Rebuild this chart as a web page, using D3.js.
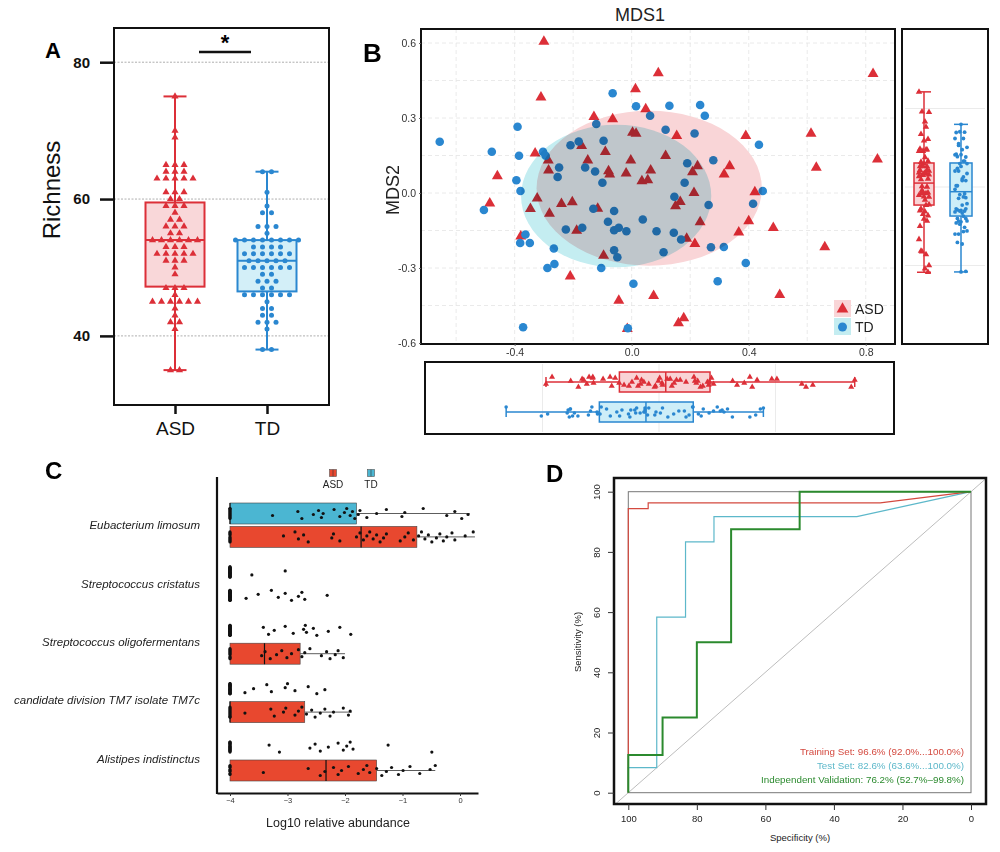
<!DOCTYPE html>
<html>
<head>
<meta charset="utf-8">
<script src="https://cdn.jsdelivr.net/npm/d3@7"></script>
<style>
  body { margin: 0; background: #fff; }
  svg { display: block; }
  text { font-family: "Liberation Sans", Arial, sans-serif; }
</style>
</head>
<body>
<svg id="fig" width="1000" height="852"></svg>
<script>
// ---------- panel A : richness ----------
const richGroups = ["ASD", "TD"];
const richASD = [75, 70, 69, 65, 65, 65, 64, 64, 64, 63, 63, 63, 63, 63, 61, 61, 61, 60, 60, 59, 59, 59, 58,
  57, 57, 56, 56, 56, 55, 55, 54, 54, 54, 54, 54, 54, 53, 53, 53, 52, 52, 52, 52, 52, 51, 51, 51, 50, 49,
  47, 47, 47, 46, 45, 45, 45, 45, 45, 45, 44, 43, 42, 42, 41, 35, 35];
const richTD = [64, 64, 61, 59, 58, 58, 56, 56, 56, 55, 54, 54, 54, 54, 54, 54, 54, 54, 53, 53, 53, 53,
  52, 52, 52, 52, 52, 52, 51, 51, 51, 51, 51, 50, 50, 50, 50, 50, 50, 49, 49, 48, 48, 48, 47, 47,
  46, 46, 46, 46, 46, 46, 45, 44, 44, 43, 43, 42, 42, 42, 41, 38, 38];
// min, q1, median, q3, max
const richBoxASD = [35, 47.2, 54, 59.5, 75];
const richBoxTD = [38, 46.5, 51, 54, 64];
const richTicks = [40, 60, 80];

// ---------- panel B : MDS ----------
const asdMds1 = [-0.30, -0.31, 0.091, 0.825, 0.013, 0.048, -0.129, -0.065, 0.003, 0.015, 0.154, 0.39, 0.613, 0.84,
  0.631, -0.171, -0.33, -0.09, 0.116, -0.285, -0.15, -0.003, -0.284, -0.079, -0.075, -0.019, 0.065, 0.035, 0.055,
  0.208, 0.225, 0.335, 0.316, -0.459, -0.485, -0.323, -0.346, -0.281, -0.24, -0.203, -0.116, -0.188, 0.213, 0.166,
  0.15, 0.234, 0.421, 0.40, 0.366, 0.484, 0.188, 0.216, -0.096, 0.66, -0.379, -0.21, -0.044, 0.075, 0.178, 0.16,
  0.506, -0.015];
const asdMds2 = [0.606, 0.383, 0.48, 0.477, 0.416, 0.336, 0.305, 0.296, 0.242, 0.238, 0.229, 0.229, 0.238, 0.135,
  0.102, 0.189, 0.159, 0.165, 0.149, 0.131, 0.131, 0.131, 0.091, 0.088, 0.075, 0.079, 0.091, 0.048, 0.052,
  0.084, 0.108, 0.108, 0.075, 0.068, -0.041, -0.021, -0.063, -0.082, -0.043, -0.036, -0.062, -0.15, 0.001, -0.035,
  -0.052, -0.116, 0.004, -0.112, -0.157, -0.139, -0.182, -0.203, -0.25, -0.216, -0.173, -0.333, -0.43, -0.411, -0.5,
  -0.52, -0.407, -0.543];
const tdMds1 = [-0.656, -0.478, -0.39, -0.385, -0.394, -0.38, -0.505, -0.065, 0.015, 0.129, 0.234, 0.25, 0.063,
  -0.121, 0.116, 0.215, 0.435, -0.209, -0.181, -0.096, -0.303, -0.294, -0.248, -0.253, -0.159, -0.125, -0.1, 0.19,
  0.181, 0.279, 0.448, 0.415, 0.263, 0.146, -0.131, -0.06, 0.038, -0.081, -0.225, -0.169, -0.06, -0.044, -0.018,
  0.085, 0.144, 0.169, 0.271, 0.315, -0.363, -0.381, -0.348, -0.266, -0.06, -0.049, 0.109, -0.288, -0.264, -0.104,
  0.39, 0.006, 0.294, -0.371, -0.013];
const tdMds2 = [0.205, 0.165, 0.265, 0.149, 0.051, 0.008, -0.068, 0.399, 0.347, 0.349, 0.352, 0.309, 0.309, 0.276,
  0.253, 0.238, 0.193, 0.191, 0.206, 0.209, 0.165, 0.149, 0.102, 0.064, 0.102, 0.086, 0.041, 0.119, 0.041, 0.131,
  0.008, -0.043, -0.048, -0.015, -0.063, -0.072, -0.106, -0.115, -0.146, -0.139, -0.149, -0.139, -0.153, -0.153,
  -0.159, -0.186, -0.217, -0.216, -0.166, -0.2, -0.2, -0.222, -0.229, -0.257, -0.237, -0.3, -0.284, -0.3, -0.28,
  -0.363, -0.353, -0.537, -0.541];
// ellipse: cx, cy, rx, ry (data units)
const asdEllipse = [0.06, 0.019, 0.385, 0.31];
const tdEllipse = [-0.053, -0.012, 0.325, 0.285];
const mdsXTicks = [-0.4, 0.0, 0.4, 0.8];
const mdsYTicks = [-0.6, -0.3, 0.0, 0.3, 0.6];
// marginal boxplots: min, q1, median, q3, max
const asdMds1Box = [-0.485, -0.17, 0.029, 0.219, 0.84];
const tdMds1Box = [-0.656, -0.256, -0.056, 0.147, 0.448];
const asdMds2Box = [-0.543, -0.115, 0.025, 0.153, 0.606];
const tdMds2Box = [-0.541, -0.185, -0.03, 0.153, 0.399];

// ---------- panel C : species abundance ----------
const cSpecies = ["Eubacterium limosum", "Streptococcus cristatus", "Streptococcus oligofermentans",
  "candidate division TM7 isolate TM7c", "Alistipes indistinctus"];
// q1, median, q3, whisker max (null = no box)
const cBoxTD = [[-4, -4, -1.80, 0.17], null, null, null, null];
const cBoxASD = [[-4, -1.72, -0.75, 0.26], null, [-4, -3.40, -2.78, -2.0], [-4, -4, -2.70, -1.88], [-4, -2.33, -1.45, -0.43]];
const cPtsTD = [
  [-3.26, -2.82, -2.75, -2.55, -2.46, -2.41, -2.38, -2.19, -2.09, -2.01, -1.97, -1.91, -1.87, -1.83, -1.77, -1.74,
    -1.62, -1.45, -1.28, -1.01, -0.96, -0.64, -0.23, -0.09, 0.03, 0.14],
  [-3.62, -3.04],
  [-3.42, -3.33, -3.23, -3.04, -2.90, -2.72, -2.69, -2.67, -2.55, -2.49, -2.29, -2.09, -1.90],
  [-3.74, -3.59, -3.36, -3.28, -3.04, -3.0, -2.87, -2.64, -2.49, -2.35],
  [-3.32, -3.14, -2.61, -2.52, -2.43, -2.29, -2.12, -2.03, -1.97, -1.91, -1.86, -1.25, -0.49]
];
const cPtsASD = [
  [-3.07, -2.87, -2.81, -2.72, -2.64, -2.23, -2.2, -2.09, -1.80, -1.74, -1.68, -1.62, -1.57, -1.51, -1.45, -1.39,
    -1.33, -1.28, -1.04, -0.96, -0.9, -0.81, -0.72, -0.67, -0.61, -0.55, -0.49, -0.41, -0.35, -0.29, -0.23, -0.14,
    -0.09, 0.09, 0.23],
  [-3.72, -3.51, -3.28, -3.16, -3.04, -2.93, -2.81, -2.75, -2.70, -2.31],
  [-3.45, -3.39, -3.30, -3.19, -3.10, -3.01, -2.93, -2.81, -2.75, -2.70, -2.61, -2.41, -2.32, -2.26, -2.17, -2.12, -2.03],
  [-3.74, -3.29, -3.23, -3.07, -3.03, -2.87, -2.81, -2.75, -2.67, -2.58, -2.52, -2.43, -2.35, -2.26, -2.20, -2.03,
    -1.94, -1.91],
  [-3.42, -2.64, -2.43, -2.35, -2.20, -2.12, -2.06, -1.94, -1.77, -1.68, -1.62, -1.57, -1.45, -1.36, -1.28, -1.19,
    -1.07, -0.99, -0.87, -0.70, -0.52, -0.43]
];
// samples sitting on the detection floor (-4)
const cFloorTD = [12, 30, 25, 25, 20];
const cFloorASD = [10, 30, 10, 12, 8];
const cTicks = [-4, -3, -2, -1, 0];

// ---------- panel D : ROC ----------
const rocTrain = [[100, 0], [100, 94.4], [94.2, 94.4], [94.2, 96.3], [26.5, 96.3], [0, 100]];
const rocTest = [[100, 0], [100, 8.3], [91.7, 8.3], [91.7, 58.3], [83.3, 58.3], [83.3, 83.3], [75, 83.3],
  [75, 91.7], [33.3, 91.7], [0, 100]];
const rocValid = [[100, 0], [100, 12.5], [90, 12.5], [90, 25], [80, 25], [80, 50], [70, 50], [70, 87.5],
  [50, 87.5], [50, 100], [0, 100]];
const rocLabels = ["Training Set: 96.6% (92.0%...100.0%)", "Test Set: 82.6% (63.6%...100.0%)",
  "Independent Validation: 76.2% (52.7%\u201399.8%)"];
const rocTicks = [100, 80, 60, 40, 20, 0];

const svg = d3.select("#fig");
const red = "#dc2f38", blue = "#2a87d0";
const hyphen1 = d => d3.format(".1f")(d).replace("\u2212", "-");

// deterministic spread used for jittered marks
function spread(i, amp) {
  return (((i * 7) % 11) / 10 - 0.5) * 2 * amp;
}

// ======================= A =======================
(function () {
  const g = svg.append("g");
  const y = d3.scaleLinear().domain([29.9, 85]).range([405, 28]);
  const x = d3.scalePoint().domain(richGroups).range([175, 267]);

  g.selectAll(".gridA").data(richTicks).join("line")
    .attr("x1", 114).attr("x2", 329)
    .attr("y1", d => y(d)).attr("y2", d => y(d))
    .attr("stroke", "#9a9a9a").attr("stroke-width", 0.8).attr("stroke-dasharray", "2,1.5");

  g.append("g").attr("transform", "translate(114,0)")
    .call(d3.axisLeft(y).tickValues(richTicks).tickSize(14).tickPadding(10))
    .call(a => a.select(".domain").remove())
    .call(a => a.selectAll("line").attr("stroke", "#111").attr("stroke-width", 2.5))
    .call(a => a.selectAll("text").attr("font-size", 15).attr("font-weight", "bold").attr("fill", "#111"));

  g.append("g").attr("transform", "translate(0,405)")
    .call(d3.axisBottom(x).tickSize(9).tickPadding(8))
    .call(a => a.select(".domain").remove())
    .call(a => a.selectAll("line").attr("stroke", "#111").attr("stroke-width", 2.5))
    .call(a => a.selectAll("text").attr("font-size", 19).attr("fill", "#111"));

  g.append("rect").attr("x", 114).attr("y", 28).attr("width", 215).attr("height", 377)
    .attr("fill", "none").attr("stroke", "#111").attr("stroke-width", 2);

  const boxes = [
    { k: "ASD", s: richBoxASD, c: red, f: "#f9d7d9", v: richASD, tri: true },
    { k: "TD", s: richBoxTD, c: blue, f: "#d3eff8", v: richTD, tri: false }
  ];
  boxes.forEach(b => {
    const cx = x(b.k), hw = 29.5;
    g.append("line").attr("x1", cx).attr("x2", cx).attr("y1", y(b.s[0])).attr("y2", y(b.s[4]))
      .attr("stroke", b.c).attr("stroke-width", 2);
    [b.s[0], b.s[4]].forEach(v => g.append("line").attr("x1", cx - 11.5).attr("x2", cx + 11.5)
      .attr("y1", y(v)).attr("y2", y(v)).attr("stroke", b.c).attr("stroke-width", 2));
    g.append("rect").attr("x", cx - hw).attr("y", y(b.s[3])).attr("width", 2 * hw)
      .attr("height", y(b.s[1]) - y(b.s[3])).attr("fill", b.f).attr("stroke", b.c).attr("stroke-width", 2);
    g.append("line").attr("x1", cx - hw).attr("x2", cx + hw).attr("y1", y(b.s[2])).attr("y2", y(b.s[2]))
      .attr("stroke", b.c).attr("stroke-width", 2);

    // dot plot: points with equal value are laid out side by side
    const counts = d3.rollup(b.v, vv => vv.length, d => d);
    const seen = new Map();
    const pts = b.v.map(d => {
      const n = counts.get(d), i = seen.get(d) || 0;
      seen.set(d, i + 1);
      return { v: d, dx: (i - (n - 1) / 2) * 9 };
    });
    if (b.tri) {
      g.selectAll(".triA").data(pts).join("path")
        .attr("d", d3.symbol(d3.symbolTriangle, 22))
        .attr("transform", d => `translate(${cx + d.dx},${y(d.v)})`)
        .attr("fill", b.c);
    } else {
      g.selectAll(".dotA").data(pts).join("circle")
        .attr("cx", d => cx + d.dx).attr("cy", d => y(d.v)).attr("r", 2.5)
        .attr("fill", b.c);
    }
  });

  g.append("line").attr("x1", 199).attr("x2", 251).attr("y1", 52).attr("y2", 52)
    .attr("stroke", "#111").attr("stroke-width", 2.5);
  g.append("text").attr("x", 225).attr("y", 50).attr("text-anchor", "middle")
    .attr("font-size", 22).attr("font-weight", "bold").text("*");
  g.append("text").attr("transform", "translate(60,190) rotate(-90)").attr("text-anchor", "middle")
    .attr("font-size", 24).attr("fill", "#111").text("Richness");
  g.append("text").attr("x", 45).attr("y", 58).attr("font-size", 22).attr("font-weight", "bold").text("A");
})();

// ======================= B =======================
(function () {
  const g = svg.append("g");
  const L = 421, R = 895, T = 29, B = 344;
  const x = d3.scaleLinear().domain([-0.72, 0.9]).range([L, R]);
  const y = d3.scaleLinear().domain([-0.604, 0.656]).range([B, T]);

  const clip = g.append("clipPath").attr("id", "clipB");
  clip.append("rect").attr("x", L).attr("y", T).attr("width", R - L).attr("height", B - T);

  const grid = g.append("g").attr("clip-path", "url(#clipB)");
  grid.selectAll(".gx").data(d3.range(-0.6, 0.81, 0.2)).join("line")
    .attr("x1", d => x(d)).attr("x2", d => x(d)).attr("y1", T).attr("y2", B)
    .attr("stroke", "#e4e4e4").attr("stroke-width", 0.8).attr("stroke-dasharray", "4,3");
  grid.selectAll(".gy").data(d3.range(-0.45, 0.61, 0.15)).join("line")
    .attr("x1", L).attr("x2", R).attr("y1", d => y(d)).attr("y2", d => y(d))
    .attr("stroke", "#e4e4e4").attr("stroke-width", 0.8).attr("stroke-dasharray", "4,3");

  const asd = asdMds1.map((v, i) => [v, asdMds2[i]]);
  const td = tdMds1.map((v, i) => [v, tdMds2[i]]);
  const pg = g.append("g").attr("clip-path", "url(#clipB)");
  pg.selectAll(".asdP").data(asd).join("path")
    .attr("d", d3.symbol(d3.symbolTriangle, 52))
    .attr("transform", d => `translate(${x(d[0])},${y(d[1])})`)
    .attr("fill", red);
  pg.selectAll(".tdP").data(td).join("circle")
    .attr("cx", d => x(d[0])).attr("cy", d => y(d[1])).attr("r", 4.3)
    .attr("fill", blue);

  // confidence ellipses laid over the points
  [[asdEllipse, "#f9d5d7"], [tdEllipse, "#c4edf1"]].forEach(([e, c]) => {
    pg.append("ellipse")
      .attr("cx", x(e[0])).attr("cy", y(e[1]))
      .attr("rx", x(e[0] + e[2]) - x(e[0])).attr("ry", y(e[1]) - y(e[1] + e[3]))
      .attr("fill", c).style("mix-blend-mode", "multiply");
  });

  g.append("rect").attr("x", L).attr("y", T).attr("width", R - L).attr("height", B - T)
    .attr("fill", "none").attr("stroke", "#111").attr("stroke-width", 2);

  g.append("g").attr("transform", `translate(${L},0)`)
    .call(d3.axisLeft(y).tickValues(mdsYTicks).tickFormat(hyphen1).tickSize(2).tickPadding(3))
    .call(a => a.select(".domain").remove())
    .call(a => a.selectAll("line").attr("stroke", "#666"))
    .call(a => a.selectAll("text").attr("font-size", 10.5).attr("fill", "#333"));
  g.append("g").attr("transform", `translate(0,${B})`)
    .call(d3.axisBottom(x).tickValues(mdsXTicks).tickFormat(hyphen1).tickSize(2).tickPadding(3))
    .call(a => a.select(".domain").remove())
    .call(a => a.selectAll("line").attr("stroke", "#666"))
    .call(a => a.selectAll("text").attr("font-size", 10.5).attr("fill", "#333"));

  g.append("text").attr("x", 640).attr("y", 21).attr("text-anchor", "middle")
    .attr("font-size", 18).attr("fill", "#222").text("MDS1");
  g.append("text").attr("transform", "translate(399,190) rotate(-90)").attr("text-anchor", "middle")
    .attr("font-size", 18).attr("fill", "#222").text("MDS2");
  g.append("text").attr("x", 363).attr("y", 62).attr("font-size", 26).attr("font-weight", "bold")
    .attr("font-family", "Noto Sans").text("B");

  // legend
  const lg = g.append("g");
  lg.append("rect").attr("x", 834).attr("y", 300).attr("width", 17).attr("height", 17).attr("fill", "#f9d5d7");
  lg.append("rect").attr("x", 834).attr("y", 318).attr("width", 17).attr("height", 17).attr("fill", "#c4edf1");
  lg.append("path").attr("d", d3.symbol(d3.symbolTriangle, 60)).attr("transform", "translate(842.5,309)").attr("fill", red);
  lg.append("circle").attr("cx", 842.5).attr("cy", 327).attr("r", 4.5).attr("fill", blue);
  lg.append("text").attr("x", 855).attr("y", 314).attr("font-size", 14).attr("fill", "#222").text("ASD");
  lg.append("text").attr("x", 855).attr("y", 332).attr("font-size", 14).attr("fill", "#222").text("TD");

  // ---- marginal box along MDS1 ----
  const mb = svg.append("g");
  const xm = d3.scaleLinear().domain([-1, 1]).range([426, 892]);
  mb.append("rect").attr("x", 425).attr("y", 362).attr("width", 469).attr("height", 72)
    .attr("fill", "#fff").attr("stroke", "#111").attr("stroke-width", 2);
  mb.selectAll(".mg").data([-0.5, 0, 0.5]).join("line")
    .attr("x1", d => xm(d)).attr("x2", d => xm(d)).attr("y1", 364).attr("y2", 432)
    .attr("stroke", "#e6e6e6").attr("stroke-width", 0.8);
  const rowsX = [
    { s: asdMds1Box, v: asdMds1, cy: 382, c: red, f: "#f9d3d5", tri: true },
    { s: tdMds1Box, v: tdMds1, cy: 412, c: blue, f: "#cdeef8", tri: false }
  ];
  rowsX.forEach(r => {
    mb.append("line").attr("x1", xm(r.s[0])).attr("x2", xm(r.s[4])).attr("y1", r.cy).attr("y2", r.cy)
      .attr("stroke", r.c).attr("stroke-width", 1.5);
    [r.s[0], r.s[4]].forEach(v => mb.append("line").attr("x1", xm(v)).attr("x2", xm(v))
      .attr("y1", r.cy - 5).attr("y2", r.cy + 5).attr("stroke", r.c).attr("stroke-width", 1.5));
    mb.append("rect").attr("x", xm(r.s[1])).attr("y", r.cy - 10).attr("width", xm(r.s[3]) - xm(r.s[1]))
      .attr("height", 20).attr("fill", r.f).attr("stroke", r.c).attr("stroke-width", 1.5);
    mb.append("line").attr("x1", xm(r.s[2])).attr("x2", xm(r.s[2])).attr("y1", r.cy - 10).attr("y2", r.cy + 10)
      .attr("stroke", r.c).attr("stroke-width", 1.5);
    if (r.tri) {
      mb.selectAll(".mt").data(r.v).join("path").attr("d", d3.symbol(d3.symbolTriangle, 16))
        .attr("transform", (d, i) => `translate(${xm(d)},${r.cy + spread(i, 5)})`).attr("fill", r.c);
    } else {
      mb.selectAll(".mc").data(r.v).join("circle").attr("r", 1.8)
        .attr("cx", d => xm(d)).attr("cy", (d, i) => r.cy + spread(i, 5)).attr("fill", r.c);
    }
  });

  // ---- marginal box along MDS2 ----
  const rb = svg.append("g");
  const ym = d3.scaleLinear().domain([-1, 1]).range([344, 30]);
  rb.append("rect").attr("x", 902).attr("y", 29).attr("width", 86).attr("height", 315)
    .attr("fill", "#fff").attr("stroke", "#111").attr("stroke-width", 2);
  rb.selectAll(".rg").data([-0.5, 0, 0.5]).join("line")
    .attr("x1", 905).attr("x2", 985).attr("y1", d => ym(d)).attr("y2", d => ym(d))
    .attr("stroke", "#e6e6e6").attr("stroke-width", 0.8);
  const rowsY = [
    { s: asdMds2Box, v: asdMds2, cx: 924, hw: 10, c: red, f: "#f9d3d5", tri: true },
    { s: tdMds2Box, v: tdMds2, cx: 961, hw: 11, c: blue, f: "#cdeef8", tri: false }
  ];
  rowsY.forEach(r => {
    rb.append("line").attr("x1", r.cx).attr("x2", r.cx).attr("y1", ym(r.s[0])).attr("y2", ym(r.s[4]))
      .attr("stroke", r.c).attr("stroke-width", 1.5);
    [r.s[0], r.s[4]].forEach(v => rb.append("line").attr("x1", r.cx - 7).attr("x2", r.cx + 7)
      .attr("y1", ym(v)).attr("y2", ym(v)).attr("stroke", r.c).attr("stroke-width", 1.5));
    rb.append("rect").attr("x", r.cx - r.hw).attr("y", ym(r.s[3])).attr("width", 2 * r.hw)
      .attr("height", ym(r.s[1]) - ym(r.s[3])).attr("fill", r.f).attr("stroke", r.c).attr("stroke-width", 1.5);
    rb.append("line").attr("x1", r.cx - r.hw).attr("x2", r.cx + r.hw).attr("y1", ym(r.s[2])).attr("y2", ym(r.s[2]))
      .attr("stroke", r.c).attr("stroke-width", 1.5);
    if (r.tri) {
      rb.selectAll(".rt").data(r.v).join("path").attr("d", d3.symbol(d3.symbolTriangle, 18))
        .attr("transform", (d, i) => `translate(${r.cx + spread(i, 5)},${ym(d)})`).attr("fill", r.c);
    } else {
      rb.selectAll(".rc").data(r.v).join("circle").attr("r", 1.9)
        .attr("cx", (d, i) => r.cx + spread(i, 6)).attr("cy", d => ym(d)).attr("fill", r.c);
    }
  });
})();

// ======================= C =======================
(function () {
  const g = svg.append("g");
  const x = d3.scaleLinear().domain([-4.226, 0.313]).range([217, 478]);
  const ys = d3.scaleBand().domain(cSpecies).range([496, 788]);
  const yg = d3.scalePoint().domain(["TD", "ASD"]).range([-11.7, 11.7]);
  const rowY = (sp, grp) => ys(sp) + ys.bandwidth() / 2 + yg(grp);
  const blueC = "#4bb6d2", redC = "#e8482f";

  cSpecies.forEach((sp, si) => {
    [["TD", cBoxTD[si], cPtsTD[si], cFloorTD[si], blueC], ["ASD", cBoxASD[si], cPtsASD[si], cFloorASD[si], redC]]
      .forEach(([grp, bx, pts, nFloor, col]) => {
        const cy = rowY(sp, grp);
        if (bx) {
          g.append("line").attr("x1", x(bx[2])).attr("x2", x(bx[3])).attr("y1", cy).attr("y2", cy)
            .attr("stroke", "#333").attr("stroke-width", 0.8);
          g.append("rect").attr("x", x(bx[0])).attr("y", cy - 10.5).attr("width", x(bx[2]) - x(bx[0]))
            .attr("height", 21).attr("fill", col).attr("stroke", "#444").attr("stroke-width", 0.6);
          g.append("line").attr("x1", x(bx[1])).attr("x2", x(bx[1])).attr("y1", cy - 10.5).attr("y2", cy + 10.5)
            .attr("stroke", "#111").attr("stroke-width", 1.2);
        }
        const all = d3.range(nFloor).map(() => -4).concat(pts);
        g.selectAll(null).data(all).join("circle")
          .attr("cx", d => x(d)).attr("cy", (d, i) => cy + spread(i + si, 5))
          .attr("r", 1.6).attr("fill", "#111");
      });
    g.append("text").attr("x", 200).attr("y", ys(sp) + ys.bandwidth() / 2 + 4)
      .attr("text-anchor", "end").attr("font-size", 11.5).attr("font-style", "italic")
      .attr("fill", "#222").text(sp);
  });

  g.append("line").attr("x1", 217).attr("x2", 217).attr("y1", 477).attr("y2", 794)
    .attr("stroke", "#111").attr("stroke-width", 2.2);
  g.append("g").attr("transform", "translate(0,793)")
    .call(d3.axisBottom(x).tickValues(cTicks).tickFormat(d3.format("d")).tickSize(3).tickPadding(2).tickSizeOuter(0))
    .call(a => a.select(".domain").attr("stroke", "#111").attr("stroke-width", 2.2))
    .call(a => a.selectAll(".tick line").attr("stroke", "#333"))
    .call(a => a.selectAll("text").attr("font-size", 7.5).attr("fill", "#333"));
  g.append("text").attr("x", 338).attr("y", 827).attr("text-anchor", "middle").attr("font-size", 12.5)
    .attr("fill", "#222").text("Log10 relative abundance");

  // legend
  [["ASD", 333, redC], ["TD", 371, blueC]].forEach(([k, lx, col]) => {
    g.append("rect").attr("x", lx - 3.5).attr("y", 469.5).attr("width", 7).attr("height", 7)
      .attr("fill", col).attr("stroke", "#555").attr("stroke-width", 0.6);
    g.append("line").attr("x1", lx).attr("x2", lx).attr("y1", 469.5).attr("y2", 476.5)
      .attr("stroke", "#333").attr("stroke-width", 0.6);
    g.append("text").attr("x", lx).attr("y", 488).attr("text-anchor", "middle").attr("font-size", 10)
      .attr("fill", "#222").text(k);
  });
  g.append("text").attr("x", 45).attr("y", 479).attr("font-size", 24).attr("font-weight", "bold")
    .attr("font-family", "Noto Sans").text("C");
})();

// ======================= D =======================
(function () {
  const g = svg.append("g");
  const x = d3.scaleLinear().domain([100, 0]).range([628.3, 971]);
  const y = d3.scaleLinear().domain([0, 100]).range([792.7, 491.7]);
  const L = 614, R = 986, T = 478, B = 804;

  g.append("clipPath").attr("id", "clipD").append("rect")
    .attr("x", L).attr("y", T).attr("width", R - L).attr("height", B - T);
  g.append("line").attr("clip-path", "url(#clipD)")
    .attr("x1", x(110)).attr("y1", y(-10)).attr("x2", x(-10)).attr("y2", y(110))
    .attr("stroke", "#bdbdbd").attr("stroke-width", 1);
  g.append("rect").attr("x", x(100)).attr("y", y(100)).attr("width", x(0) - x(100)).attr("height", y(0) - y(100))
    .attr("fill", "none").attr("stroke", "#777").attr("stroke-width", 1);

  const line = d3.line().x(d => x(d[0])).y(d => y(d[1]));
  [[rocTest, "#5db8ca", 1.2], [rocTrain, "#d4493f", 1.2], [rocValid, "#2b8a2e", 2]].forEach(([d, c, w]) => {
    g.append("path").datum(d).attr("d", line).attr("fill", "none").attr("stroke", c).attr("stroke-width", w);
  });

  g.append("rect").attr("x", L).attr("y", T).attr("width", R - L).attr("height", B - T)
    .attr("fill", "none").attr("stroke", "#111").attr("stroke-width", 2.5);

  g.append("g").attr("transform", `translate(0,${B})`)
    .call(d3.axisBottom(x).tickValues(rocTicks).tickSize(6).tickPadding(5))
    .call(a => a.select(".domain").remove())
    .call(a => a.selectAll("line").attr("stroke", "#333"))
    .call(a => a.selectAll("text").attr("font-size", 9.5).attr("fill", "#222"));
  const ya = g.append("g").attr("transform", `translate(${L},0)`)
    .call(d3.axisLeft(y).tickValues(rocTicks).tickSize(6).tickPadding(4))
    .call(a => a.select(".domain").remove())
    .call(a => a.selectAll("line").attr("stroke", "#333"));
  ya.selectAll("text").attr("font-size", 9.5).attr("fill", "#222")
    .attr("text-anchor", "middle").attr("dy", 0).attr("x", null)
    .attr("transform", "translate(-14,0) rotate(-90)");

  g.append("text").attr("x", 800).attr("y", 841).attr("text-anchor", "middle").attr("font-size", 9.5)
    .attr("fill", "#222").text("Specificity (%)");
  g.append("text").attr("transform", "translate(581,642) rotate(-90)").attr("text-anchor", "middle")
    .attr("font-size", 9.5).attr("fill", "#222").text("Sensitivity (%)");

  const lc = ["#d4493f", "#5db8ca", "#2b8a2e"];
  g.selectAll(".lgD").data(rocLabels).join("text")
    .attr("x", 964).attr("y", (d, i) => 755 + i * 14.2).attr("text-anchor", "end")
    .attr("font-size", 9.8).attr("fill", (d, i) => lc[i]).text(d => d);

  g.append("text").attr("x", 546).attr("y", 482).attr("font-size", 24).attr("font-weight", "bold")
    .attr("font-family", "Noto Sans").text("D");
})();
</script>
</body>
</html>
